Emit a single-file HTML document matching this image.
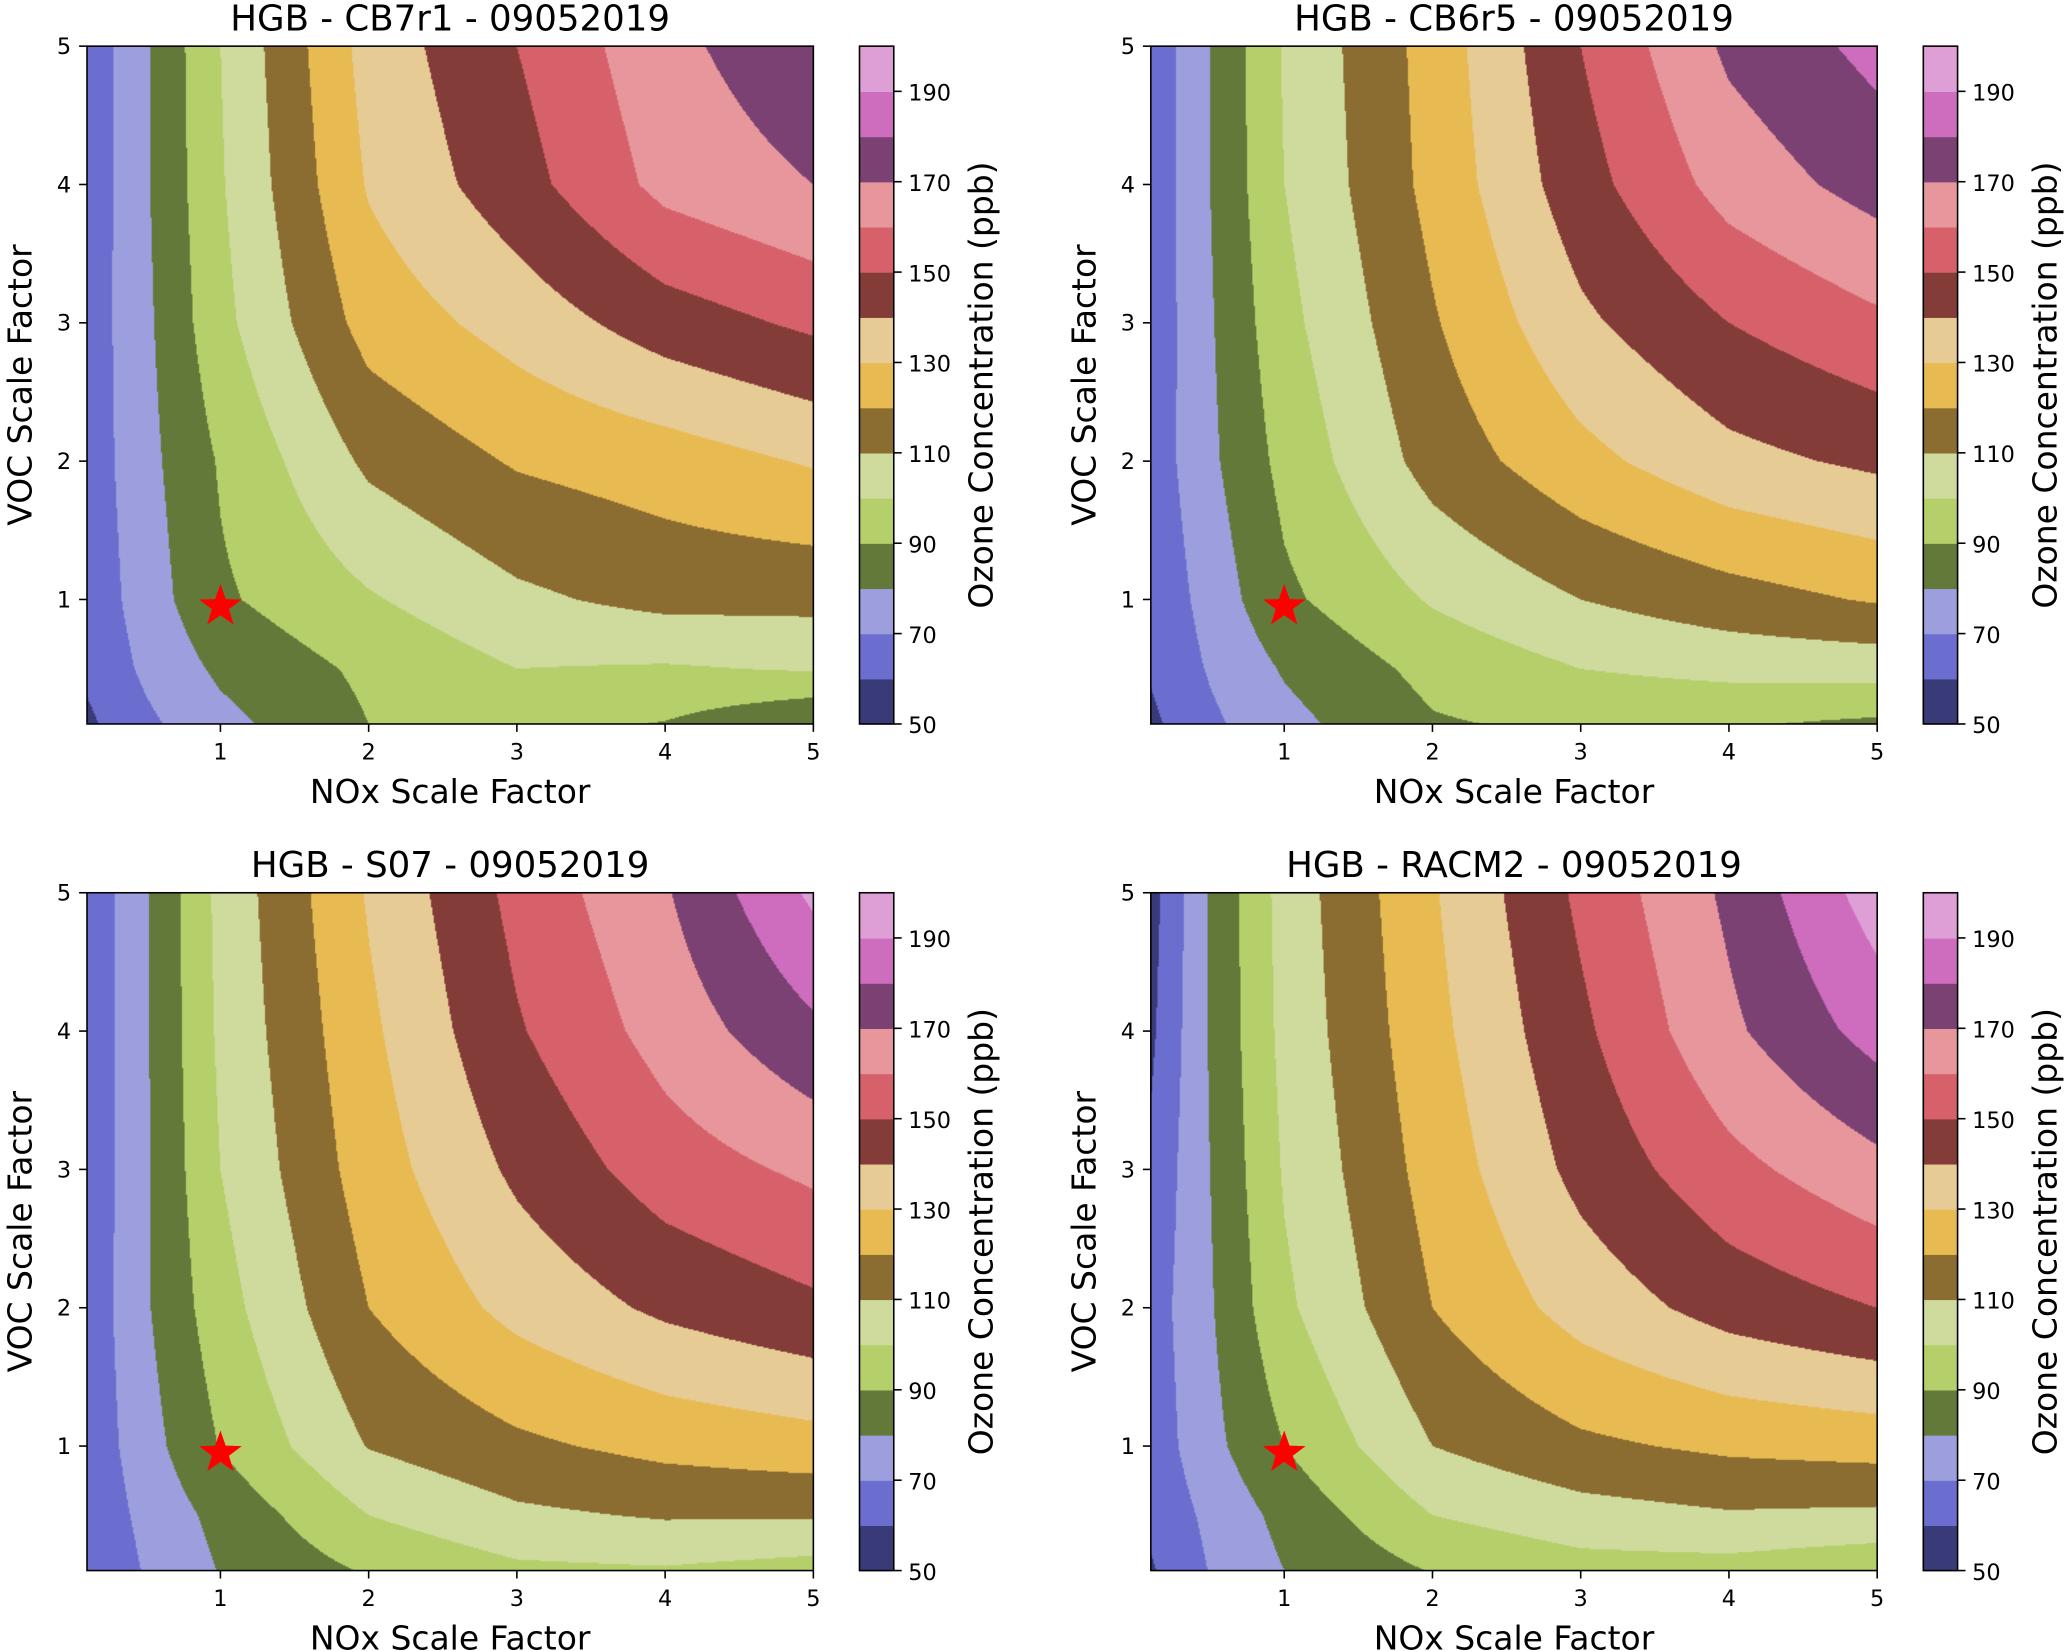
<!DOCTYPE html>
<html><head><meta charset="utf-8">
<style>
html,body{margin:0;padding:0;background:#fff;}
#root{position:relative;width:1568px;height:1252px;transform:scale(1.31824,1.31869);transform-origin:0 0;font-family:"DejaVu Sans","Liberation Sans",sans-serif;}
canvas{position:absolute;}
svg{position:absolute;left:0;top:0;}
</style></head>
<body>
<div id="root">
<svg id="svg" width="1568" height="1252" viewBox="0 0 1568 1252"></svg>
</div>
<script>
// ---- data ----
const noxValues = [0.1, 0.5, 1, 2, 3, 4, 5];
const vocValues = [0.1, 0.5, 1, 2, 3, 4, 5];
const levels = [50,60,70,80,90,100,110,120,130,140,150,160,170,180,190,200];
const levelColors = ["#393b79","#6b6ecf","#9c9ede","#637939","#b5cf6b","#cedb9c","#8c6d31","#e7ba52","#e7cb94","#843c39","#d6616b","#e7969c","#7b4173","#ce6dbd","#de9ed6"];
const cbTicks = [50,70,90,110,130,150,170,190];
const axisTicks = [1,2,3,4,5];
// rows: VOC 0.1,0.5,1,2,3,4,5 ; columns: NOx values
const ozoneCB7r1 = [
 [58,68,77,90,93,89.5,80],
 [62,72,82,92,100,99,101],
 [63,75,88.5,99,108,113,113],
 [64,77,91,112,121,125,131],
 [64,78,97,124,134,145,152],
 [63,79,99,131,146,163,170],
 [63,79,100,134,150,167,178]];
const ozoneCB6r5 = [
 [58,68,77,89,92,91,88],
 [61,71,81,93,100,103,104],
 [62,74,88,101,110,116,121],
 [64,78,93,114,127,137,142],
 [63,79,97,119,138,150,158],
 [63,80,100,123,146,164,174],
 [63,80,101,124,150,172,183]];
const ozoneS07 = [
 [60,71,80.5,91,98,99,96],
 [62,73,83,100,108,111,111],
 [63,76,90.5,110.5,118,123,126],
 [63,79,96,120,133,142,148],
 [62,79,100,125,142,155,162],
 [62,79,102,128,149,164,178],
 [62,79,103,131,153,169,192]];
const ozoneRACM2 = [
 [59,70.5,80,90.5,96,96,92],
 [62,72.5,83,100,106,109,108],
 [64,77,90,110,118,122,124],
 [65,79,98,120,134,144,150],
 [62,80,101,124,143,157,167],
 [58,81,103,127,148,168,184],
 [56,81,104,129,152,172,195]];
const titles = ["HGB - CB7r1 - 09052019","HGB - CB6r5 - 09052019","HGB - S07 - 09052019","HGB - RACM2 - 09052019"];
const grids = [ozoneCB7r1, ozoneCB6r5, ozoneS07, ozoneRACM2];
const origins = [[66,35],[873,35],[66,677],[873,677]];
const star = [1, 0.95];

const NS="http://www.w3.org/2000/svg";
const svg=document.getElementById('svg');
const root=document.getElementById('root');
const PW=551, PH=514;
function el(tag,attrs,parent){const e=document.createElementNS(NS,tag);for(const k in attrs)e.setAttribute(k,attrs[k]);(parent||svg).appendChild(e);return e;}
function interpIdx(arr,v){let i=0;while(i<arr.length-2&&v>arr[i+1])i++;return [i,(v-arr[i])/(arr[i+1]-arr[i])];}
function sample(g,n,v){const [i,tx]=interpIdx(noxValues,n);const [j,ty]=interpIdx(vocValues,v);
 const a=g[j][i],b=g[j][i+1],c=g[j+1][i],d=g[j+1][i+1];
 return (a*(1-tx)+b*tx)*(1-ty)+(c*(1-tx)+d*tx)*ty;}
function hex(c){return [parseInt(c.slice(1,3),16),parseInt(c.slice(3,5),16),parseInt(c.slice(5,7),16)];}
const rgb=levelColors.map(hex);

grids.forEach((g,p)=>{
 const [ox,oy]=origins[p];
 const xs=n=>ox+(n-0.1)/4.9*PW, ys=v=>oy+(5-v)/4.9*PH;
 const cv=document.createElement('canvas');cv.width=PW;cv.height=PH;
 cv.style.left=ox+'px';cv.style.top=oy+'px';
 
 
 root.insertBefore(cv,svg);
 const ctx=cv.getContext('2d');const img=ctx.createImageData(PW,PH);
 for(let y=0;y<PH;y++){const v=5-(y+0.5)/PH*4.9;
  for(let x=0;x<PW;x++){const n=0.1+(x+0.5)/PW*4.9;const val=sample(g,n,v);
   let k=Math.floor((val-levels[0])/10);k=Math.max(0,Math.min(levelColors.length-1,k));
   const o=(y*PW+x)*4;img.data[o]=rgb[k][0];img.data[o+1]=rgb[k][1];img.data[o+2]=rgb[k][2];img.data[o+3]=255;}}
 ctx.putImageData(img,0,0);
 const grp=el('g',{});
 
 
 const frame=el('rect',{x:ox,y:oy,width:PW,height:PH,fill:'none',stroke:'#000','stroke-width':1.2},grp);
 
 
 const sx=xs(star[0]),sy=ys(star[1]),R=17,r=6.8;let pts=[];
 for(let i=0;i<10;i++){const rr=i%2?r:R;const a=-Math.PI/2+i*Math.PI/5;pts.push((sx+rr*Math.cos(a)).toFixed(1)+','+(sy+rr*Math.sin(a)).toFixed(1));}
 const st=el('polygon',{points:pts.join(' '),fill:'#ff0000'},grp);
 
 
 axisTicks.forEach(t=>{
  el('line',{x1:xs(t),x2:xs(t),y1:oy+PH,y2:oy+PH+6,stroke:'#000','stroke-width':1.2},grp);
  const tx=el('text',{x:xs(t),y:oy+PH+27,'font-size':17,'text-anchor':'middle'},grp);tx.textContent=t;
  
  
  el('line',{x1:ox-6,x2:ox,y1:ys(t),y2:ys(t),stroke:'#000','stroke-width':1.2},grp);
  const ty=el('text',{x:ox-12,y:ys(t)+6,'font-size':17,'text-anchor':'end'},grp);ty.textContent=t;
  
  
 });
 const ti=el('text',{x:ox+PW/2,y:oy-12,'font-size':27,'text-anchor':'middle'},grp);ti.textContent=titles[p];
 
 
 const xl=el('text',{x:ox+PW/2,y:oy+PH+60,'font-size':25,'text-anchor':'middle'},grp);xl.textContent='NOx Scale Factor';
 
 
 const yl=el('text',{x:0,y:0,'font-size':25,'text-anchor':'middle',transform:`translate(${ox-42},${oy+PH/2}) rotate(-90)`},grp);yl.textContent='VOC Scale Factor';
 
 
 const cx=ox+586,cw=26;const cb=v=>oy+PH-(v-levels[0])/(levels[levels.length-1]-levels[0])*PH;
 levelColors.forEach((c,i)=>{const r=el('rect',{x:cx,y:cb(levels[i+1]),width:cw,height:cb(levels[i])-cb(levels[i+1])+0.5,fill:c},grp);
  
  });
 el('rect',{x:cx,y:oy,width:cw,height:PH,fill:'none',stroke:'#000','stroke-width':1.2},grp);
 cbTicks.forEach(t=>{el('line',{x1:cx+cw,x2:cx+cw+6,y1:cb(t),y2:cb(t),stroke:'#000','stroke-width':1.2},grp);
  const l=el('text',{x:cx+cw+11,y:cb(t)+7,'font-size':17},grp);l.textContent=t;
  
  });
 const cl=el('text',{x:0,y:0,'font-size':25,'text-anchor':'middle',transform:`translate(${cx+cw+75},${oy+PH/2}) rotate(-90)`},grp);cl.textContent='Ozone Concentration (ppb)';
 
 
});
</script>
</body></html>
